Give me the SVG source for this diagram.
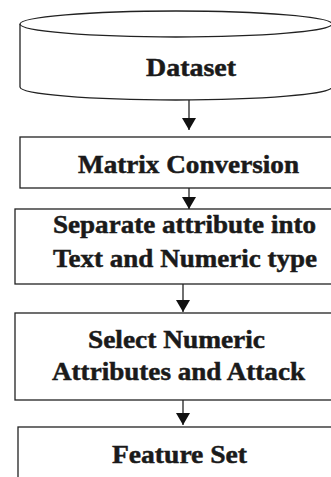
<svg xmlns="http://www.w3.org/2000/svg" width="331" height="477" viewBox="0 0 331 477">
<style>
.shape{fill:#fff;stroke:#222;stroke-width:1.3}
.lbl{font-family:"Liberation Serif","Times New Roman","DejaVu Serif",serif;font-weight:bold;font-size:26px;fill:#1a1a1a;stroke:#1a1a1a;stroke-width:0.5}
.conn{stroke:#222;stroke-width:1.3;fill:none}
</style>
<defs>
<marker id="ah" markerWidth="12" markerHeight="14" refX="12" refY="7" orient="auto" markerUnits="userSpaceOnUse">
<path d="M0,0 L12,7 L0,14 z" fill="#111"/>
</marker>
</defs>
<rect width="331" height="477" fill="#fff"/>
<g id="dataset">
<path class="shape" d="M20,24 L20,87 A156,13 0 0 0 332,87 L332,24"/>
<ellipse class="shape" cx="176" cy="24" rx="156" ry="13"/>
<text class="lbl" x="146" y="76" textLength="90" lengthAdjust="spacingAndGlyphs">Dataset</text>
</g>
<g id="matrix">
<rect class="shape" x="20" y="137" width="312" height="51"/>
<text class="lbl" x="78" y="173" textLength="221" lengthAdjust="spacingAndGlyphs">Matrix Conversion</text>
</g>
<g id="separate">
<rect class="shape" x="15" y="209" width="317" height="75"/>
<text class="lbl" x="53" y="233" textLength="263" lengthAdjust="spacingAndGlyphs">Separate attribute into</text>
<text class="lbl" x="53" y="267" textLength="264" lengthAdjust="spacingAndGlyphs">Text and Numeric type</text>
</g>
<g id="select">
<rect class="shape" x="15" y="313" width="317" height="87"/>
<text class="lbl" x="88" y="348" textLength="177" lengthAdjust="spacingAndGlyphs">Select Numeric</text>
<text class="lbl" x="52" y="380" textLength="253" lengthAdjust="spacingAndGlyphs">Attributes and Attack</text>
</g>
<g id="feature">
<rect class="shape" x="18" y="427" width="314" height="60"/>
<text class="lbl" x="112" y="463" textLength="135" lengthAdjust="spacingAndGlyphs">Feature Set</text>
</g>
<g id="connectors">
<line class="conn" x1="189" y1="100" x2="189" y2="130" marker-end="url(#ah)"/>
<line class="conn" x1="189" y1="188" x2="189" y2="209" marker-end="url(#ah)"/>
<line class="conn" x1="183" y1="284" x2="183" y2="312" marker-end="url(#ah)"/>
<line class="conn" x1="183" y1="400" x2="183" y2="425" marker-end="url(#ah)"/>
</g>
</svg>
